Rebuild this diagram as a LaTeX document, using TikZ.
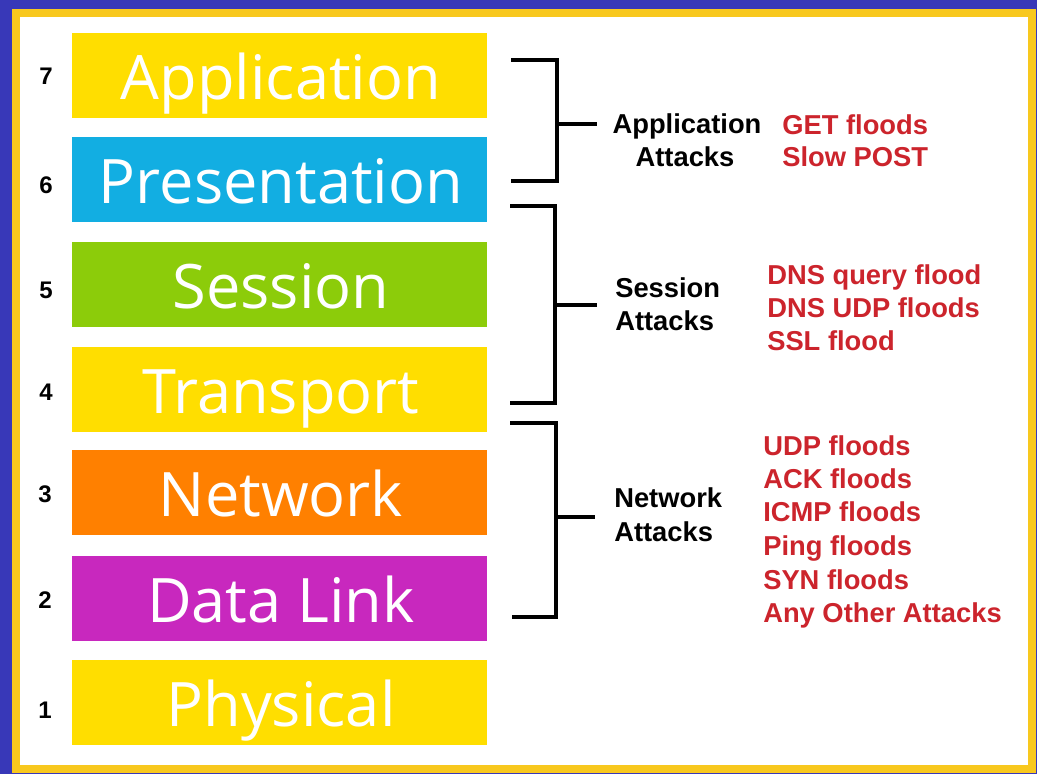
\documentclass[tikz,border=0pt]{standalone}
\usepackage{fontspec}
\setmainfont{Liberation Sans}
\newfontfamily\layerfont{Open Sans}
\definecolor{bgblue}{RGB}{56,56,184}
\definecolor{frameyellow}{RGB}{248,200,30}
\definecolor{barYellow}{RGB}{255,222,0}
\definecolor{barCyan}{RGB}{18,174,226}
\definecolor{barGreen}{RGB}{140,204,10}
\definecolor{barOrange}{RGB}{255,128,0}
\definecolor{barMagenta}{RGB}{200,40,190}
\definecolor{attackred}{RGB}{204,36,44}
\tikzset{
  layerbar/.style={draw=none, rectangle, minimum width=311.25pt, minimum height=63.75pt, inner sep=0pt},
  layertext/.style={anchor=base, inner sep=0pt, text=white, font=\layerfont\fontsize{46}{50}\selectfont},
  layernum/.style={inner sep=0pt, font=\bfseries\fontsize{18}{20}\selectfont},
  bracketline/.style={line width=3.6pt, black},
  grouplabel/.style={inner sep=0pt, font=\bfseries\fontsize{20.5}{24}\selectfont},
  attacklabel/.style={anchor=base west, inner sep=0pt, text=attackred, font=\bfseries\fontsize{20.5}{24}\selectfont},
}
\begin{document}
\begin{tikzpicture}[x=0.75pt, y=-0.75pt]
\useasboundingbox (0,0) rectangle (1037,774);
% background and frame
\fill[bgblue] (0,0) rectangle (1037,774);
\fill[white] (16,13) rectangle (1032,769);
\draw[frameyellow, line width=6.5pt] (16,13) rectangle (1032,769);

% OSI layer bars
\node[layerbar, fill=barYellow]  (bar7) at (279.5,75.5)  {};
\node[layerbar, fill=barCyan]    (bar6) at (279.5,179.5) {};
\node[layerbar, fill=barGreen]   (bar5) at (279.5,284.5) {};
\node[layerbar, fill=barYellow]  (bar4) at (279.5,389.5) {};
\node[layerbar, fill=barOrange]  (bar3) at (279.5,492.5) {};
\node[layerbar, fill=barMagenta] (bar2) at (279.5,598.5) {};
\node[layerbar, fill=barYellow]  (bar1) at (279.5,702.5) {};

\node[layertext] (name7) at (281,99)  {Application};
\node[layertext] (name6) at (281,203) {Presentation};
\node[layertext] (name5) at (281,308) {Session};
\node[layertext] (name4) at (281,413) {Transport};
\node[layertext] (name3) at (281,516) {Network};
\node[layertext] (name2) at (281,622) {Data Link};
\node[layertext] (name1) at (281,726) {Physical};

% layer numbers
\node[layernum] (num7) at (46,76)  {7};
\node[layernum] (num6) at (46,185) {6};
\node[layernum] (num5) at (46,290) {5};
\node[layernum] (num4) at (46,392) {4};
\node[layernum] (num3) at (45,494) {3};
\node[layernum] (num2) at (45,600) {2};
\node[layernum] (num1) at (45,710) {1};

% group labels
\node[grouplabel, anchor=base] (app1) at (687,133) {Application};
\node[grouplabel, anchor=base] (app2) at (685,166) {Attacks};
\node[grouplabel, anchor=base west] (ses1) at (615,297) {Session};
\node[grouplabel, anchor=base west] (ses2) at (615,330) {Attacks};
\node[grouplabel, anchor=base west] (net1) at (614,507) {Network};
\node[grouplabel, anchor=base west] (net2) at (614,541) {Attacks};

% brackets
\coordinate (appTop) at (511,60);
\coordinate (appTopR) at (557,60);
\coordinate (appBotR) at (557,181);
\coordinate (appBot) at (511,181);
\coordinate (appMid) at (557,124);
\coordinate (appTip) at (597,124);
\draw[bracketline] (appTop) -- (appTopR) -- (appBotR) -- (appBot);
\draw[bracketline] (appMid) -- (appTip);

\coordinate (sesTop) at (510,206);
\coordinate (sesTopR) at (555,206);
\coordinate (sesBotR) at (555,403);
\coordinate (sesBot) at (510,403);
\coordinate (sesMid) at (555,305);
\coordinate (sesTip) at (597,305);
\draw[bracketline] (sesTop) -- (sesTopR) -- (sesBotR) -- (sesBot);
\draw[bracketline] (sesMid) -- (sesTip);

\coordinate (netTop) at (510,423);
\coordinate (netTopR) at (556,423);
\coordinate (netBotR) at (556,617);
\coordinate (netBot) at (512,617);
\coordinate (netMid) at (556,517);
\coordinate (netTip) at (595,517);
\draw[bracketline] (netTop) -- (netTopR) -- (netBotR) -- (netBot);
\draw[bracketline] (netMid) -- (netTip);

% attack lists
\node[attacklabel] (atkA1) at (782,134) {GET floods};
\node[attacklabel] (atkA2) at (782,166) {Slow POST};

\node[attacklabel] (atkS1) at (767,284) {DNS query flood};
\node[attacklabel] (atkS2) at (767,317) {DNS UDP floods};
\node[attacklabel] (atkS3) at (767,350) {SSL flood};

\node[attacklabel] (atkN1) at (763,455) {UDP floods};
\node[attacklabel] (atkN2) at (763,488) {ACK floods};
\node[attacklabel] (atkN3) at (763,521) {ICMP floods};
\node[attacklabel] (atkN4) at (763,555) {Ping floods};
\node[attacklabel] (atkN5) at (763,589) {SYN floods};
\node[attacklabel] (atkN6) at (763,622) {Any Other Attacks};
\end{tikzpicture}
\end{document}
